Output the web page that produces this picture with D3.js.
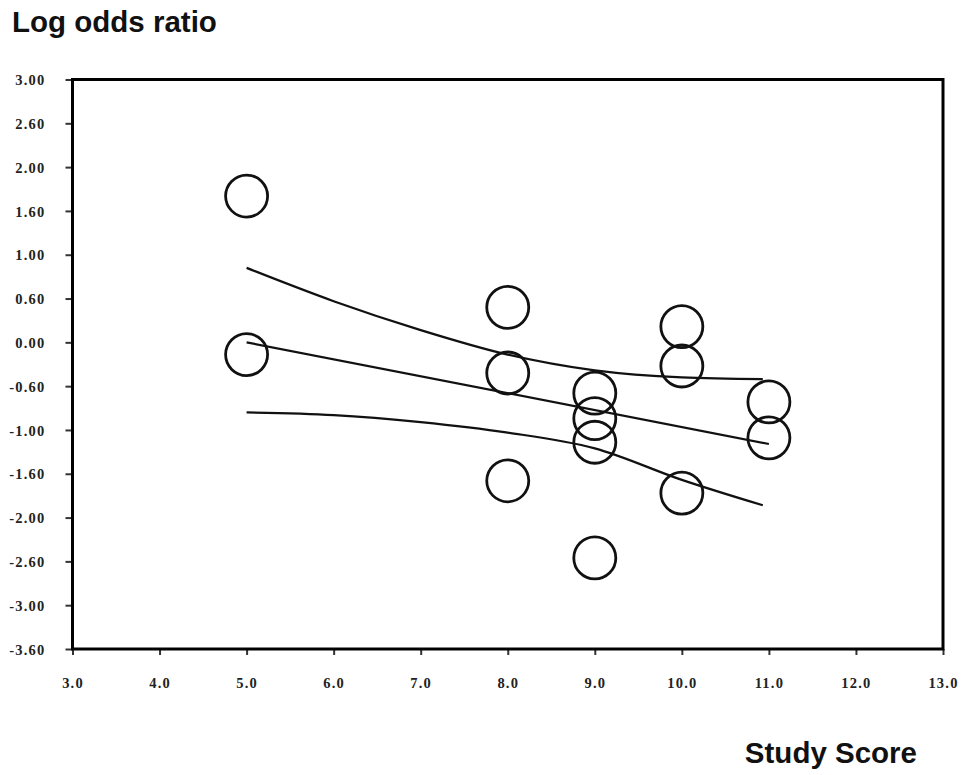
<!DOCTYPE html>
<html>
<head>
<meta charset="utf-8">
<script src="https://cdn.jsdelivr.net/npm/d3@7"></script>
<style>
  body { margin: 0; background: #fff; }
  .tick text { font-family: "Liberation Serif", "DejaVu Serif", serif; font-weight: bold; font-size: 14.5px; letter-spacing: 1.2px; fill: #222; }
  .title { font-family: "Liberation Sans", Arial, sans-serif; font-weight: bold; font-size: 29.5px; fill: #111; }
</style>
</head>
<body>
<div id="chart"></div>
<script>
// studies: study score vs log odds ratio
var scores = [5, 5, 8, 8, 8, 9, 9, 9, 9, 10, 10, 10, 11, 11];
var logOdds = [1.67, -0.14, 0.40, -0.35, -1.58, -0.58, -0.87, -1.14, -2.46, 0.18, -0.27, -1.72, -0.68, -1.09];

// fitted meta-regression line and its confidence band
var fitX = [5, 11];
var fitY = [0.0, -1.16];
var bandX = [5, 6, 7, 8, 9, 10, 10.93];
var upperY = [0.85, 0.47, 0.14, -0.14, -0.32, -0.40, -0.42];
var lowerY = [-0.80, -0.83, -0.91, -1.03, -1.21, -1.57, -1.86];

// axis ticks (labels as printed on the figure)
var yTicks = [3, 2.5, 2, 1.5, 1, 0.5, 0, -0.5, -1, -1.5, -2, -2.5, -3, -3.5];
var yLabels = ["3.00", "2.60", "2.00", "1.60", "1.00", "0.60", "0.00", "-0.60", "-1.00", "-1.60", "-2.00", "-2.60", "-3.00", "-3.60"];
var xTicks = [3, 4, 5, 6, 7, 8, 9, 10, 11, 12, 13];
var xLabels = ["3.0", "4.0", "5.0", "6.0", "7.0", "8.0", "9.0", "10.0", "11.0", "12.0", "13.0"];

var w = 965, h = 775;
var mLeft = 72.5, mRight = 943, mTop = 79.5, mBottom = 649;

var svg = d3.select("#chart").append("svg").attr("width", w).attr("height", h);

var x = d3.scaleLinear().domain([3, 13]).range([mLeft, mRight]);
var y = d3.scaleLinear().domain([-3.5, 3]).range([mBottom, mTop]);

// 軸
var yAxis = d3.axisLeft(y).tickValues(yTicks).tickSize(7).tickSizeOuter(0)
  .tickFormat(function(d, i){ return yLabels[i]; });
var gy = svg.append("g").attr("transform", "translate(" + mLeft + ",0)").call(yAxis);
gy.select(".domain").remove();
gy.selectAll(".tick line").attr("stroke", "#333").attr("stroke-width", 2);
gy.selectAll(".tick text").attr("x", -27).attr("dy", "0.35em");

var xAxis = d3.axisBottom(x).tickValues(xTicks).tickSize(6).tickSizeOuter(0)
  .tickFormat(function(d, i){ return xLabels[i]; });
var gx = svg.append("g").attr("transform", "translate(0," + mBottom + ")").call(xAxis);
gx.select(".domain").remove();
gx.selectAll(".tick line").attr("stroke", "#333").attr("stroke-width", 2);
gx.selectAll(".tick text").attr("y", 34).attr("dy", "0.35em");

// 枠
svg.append("rect")
  .attr("x", mLeft).attr("y", mTop)
  .attr("width", mRight - mLeft).attr("height", mBottom - mTop)
  .attr("fill", "none").attr("stroke", "#000").attr("stroke-width", 3);

// lines
var line = d3.line().x(function(d){ return x(d[0]); }).y(function(d){ return y(d[1]); })
  .curve(d3.curveMonotoneX);

function pairs(xs, ys){ return xs.map(function(v, i){ return [v, ys[i]]; }); }

svg.selectAll("path.fit").data([pairs(fitX, fitY), pairs(bandX, upperY), pairs(bandX, lowerY)])
  .enter().append("path").attr("class", "fit")
  .attr("d", line)
  .attr("fill", "none").attr("stroke", "#111").attr("stroke-width", 2.2);

// circles
svg.selectAll("circle").data(scores).enter().append("circle")
  .attr("cx", function(d){ return x(d); })
  .attr("cy", function(d, i){ return y(logOdds[i]); })
  .attr("r", 21)
  .attr("fill", "none").attr("stroke", "#111").attr("stroke-width", 2.8);

// titles
svg.append("text").attr("class", "title").attr("x", 12).attr("y", 32).text("Log odds ratio");
svg.append("text").attr("class", "title").attr("x", 917).attr("y", 763)
  .attr("text-anchor", "end").text("Study Score");
</script>
</body>
</html>
